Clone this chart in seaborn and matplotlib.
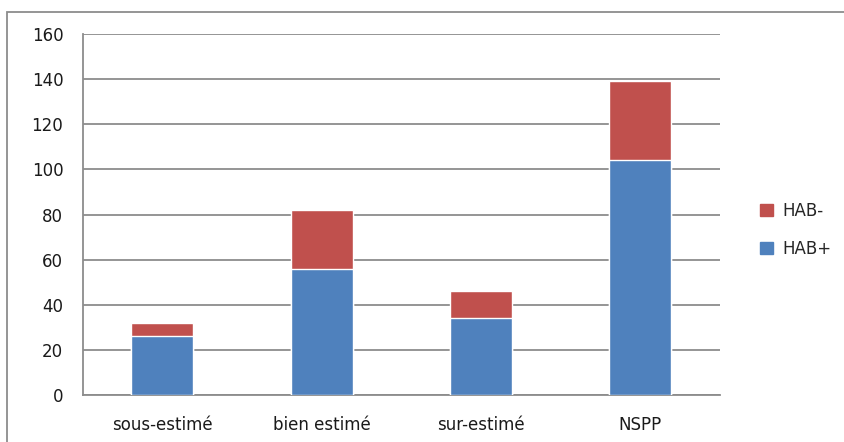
import pandas as pd
import numpy as np
import seaborn as sns
import matplotlib.pyplot as plt
from matplotlib.patches import Patch, Rectangle

categories = ["sous-estimé", "bien estimé", "sur-estimé", "NSPP"]
hab_plus = [26, 56, 34, 104]
hab_minus = [6, 26, 12, 35]

df = pd.DataFrame({"categorie": categories, "hab_plus": hab_plus, "hab_minus": hab_minus})
df["total"] = df["hab_plus"] + df["hab_minus"]

sns.set_style("white")
plt.rcParams['font.family'] = ['DejaVu Sans']

blue = "#4F81BD"
red = "#C0504D"

fig = plt.figure(figsize=(8.44, 4.42), dpi=100)
ax = fig.add_axes([0.098, 0.106, 0.755, 0.817])

# stacked bars: total in red, HAB+ drawn over it in blue
sns.barplot(x="categorie", y="total", data=df, color=red, width=0.39, saturation=1, ax=ax, zorder=3)
sns.barplot(x="categorie", y="hab_plus", data=df, color=blue, width=0.39, saturation=1, ax=ax, zorder=4)

ax.set_ylim(0, 160)
ax.set_yticks(range(0, 161, 20))
ax.set_xlim(-0.5, 3.5)
ax.set_xlabel("")
ax.set_ylabel("")
ax.yaxis.grid(True, color="#8c8c8c", linewidth=1.3, zorder=0)
ax.set_axisbelow(True)

for s in ["top", "right"]:
    ax.spines[s].set_visible(False)
for s in ["left", "bottom"]:
    ax.spines[s].set_color("#8c8c8c")
    ax.spines[s].set_linewidth(1.3)

# tick marks between categories on x axis
ax.set_xticks([-0.5, 0.5, 1.5, 2.5, 3.5])
ax.set_xticklabels([])
ax.set_xticks(range(4), minor=True)
ax.set_xticklabels(categories, minor=True)
ax.tick_params(axis="x", which="major", length=6, width=1.3, color="#8c8c8c", direction="out")
ax.tick_params(axis="x", which="minor", length=0, pad=15, labelsize=12, labelcolor="#1a1a1a")
ax.tick_params(axis="y", length=5, width=1.3, color="#8c8c8c", direction="out", labelsize=12,
               labelcolor="#1a1a1a", pad=9)

handles = [Patch(color=red, label="HAB-"), Patch(color=blue, label="HAB+")]
fig.legend(handles=handles, loc="center left", bbox_to_anchor=(0.883, 0.48), frameon=False,
           fontsize=12, handlelength=0.75, handleheight=0.75, labelspacing=1.2, handletextpad=0.6)

# outer chart border
fig.patches.append(Rectangle((7 / 844, -0.05), 1.1, 1 - 12 / 442 + 0.05, transform=fig.transFigure,
                             fill=False, edgecolor="#8c8c8c", linewidth=1.3, clip_on=False))

fig.savefig("out.png", dpi=100)
